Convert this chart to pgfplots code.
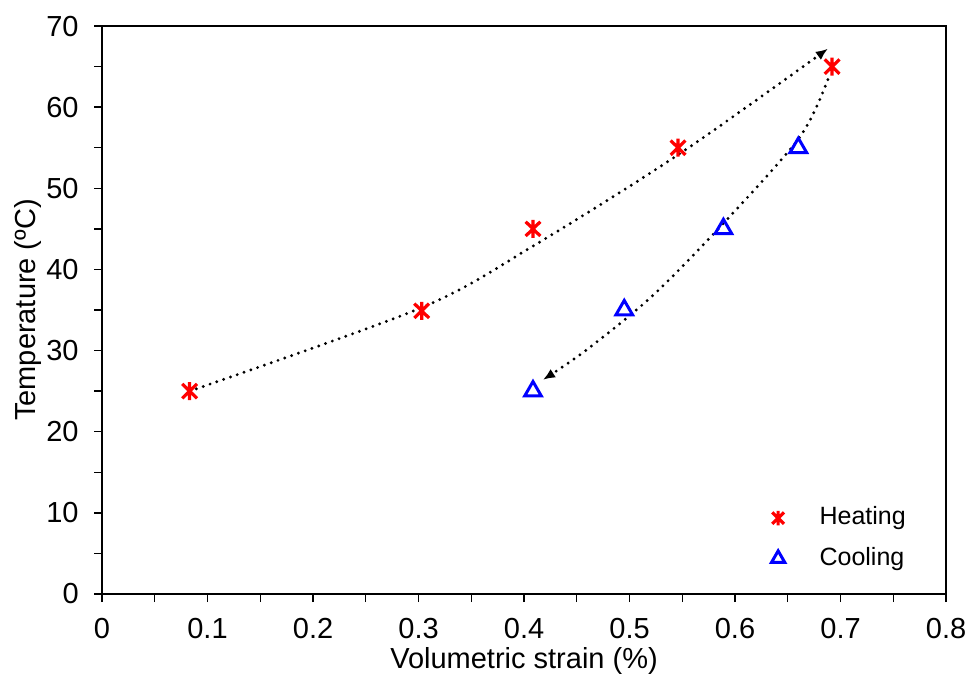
\documentclass[border=0pt]{standalone}
\usepackage{fontspec}
\setmainfont{Liberation Sans}
\usepackage{pgfplots}
\pgfplotsset{compat=1.18}
\usetikzlibrary{arrows.meta}

% six-armed star like the spreadsheet marker
\pgfdeclareplotmark{hstar}{%
  \pgfpathmoveto{\pgfqpoint{0pt}{\pgfplotmarksize}}%
  \pgfpathlineto{\pgfqpoint{0pt}{-\pgfplotmarksize}}%
  \pgfpathmoveto{\pgfqpoint{-0.82\pgfplotmarksize}{0.8\pgfplotmarksize}}%
  \pgfpathlineto{\pgfqpoint{0.82\pgfplotmarksize}{-0.8\pgfplotmarksize}}%
  \pgfpathmoveto{\pgfqpoint{-0.82\pgfplotmarksize}{-0.8\pgfplotmarksize}}%
  \pgfpathlineto{\pgfqpoint{0.82\pgfplotmarksize}{0.8\pgfplotmarksize}}%
  \pgfusepathqstroke}

\begin{document}
\fontsize{14.5}{17}\selectfont
\begin{tikzpicture}
\begin{axis}[
  scale only axis,width=422pt,height=284pt,
  xmin=0,xmax=0.8,ymin=0,ymax=70,
  xtick={0,0.1,...,0.8},ytick={0,10,...,70},
  minor x tick num=1,minor y tick num=1,
  xticklabel style={/pgf/number format/fixed},
  /pgf/number format/assume math mode=true,
  tick align=outside,xtick pos=bottom,ytick pos=left,
  major tick length=4pt,minor tick length=4pt,
  every tick/.style={black,line width=0.7pt},
  axis line style={line width=0.8pt},
  clip=false,
  xlabel={Volumetric strain (\%)},
  ylabel={Temperature (ºC)},
  xticklabel style={inner sep=1pt,yshift=-7pt},
  yticklabel style={inner sep=1pt,xshift=-6.5pt},
  xlabel style={at={(axis description cs:0.5,-0.1188)},anchor=center,inner sep=0pt},
  ylabel style={at={(axis description cs:-0.0883,0.5)},anchor=center,inner sep=0pt},
  legend style={draw=none,fill=none,at={(0.868,0.098)},anchor=center,
    row sep=5pt,font=\fontsize{12.5}{14}\selectfont},
  legend cell align=left,
  legend image code/.code={\path (0cm,0cm) (0.93cm,0cm);
    \draw[#1,mark options={scale=0.8}] plot coordinates {(0.3cm,0cm)};},
]
\addplot[only marks,mark=hstar,mark size=4.5pt,red,line width=1.6pt]
  coordinates {(0.083,25)(0.303,34.9)(0.4085,45)(0.546,55)(0.692,65)};
\addlegendentry{Heating}
\addplot[only marks,mark=triangle,mark size=4.8pt,blue,line width=1.5pt]
  coordinates {(0.4085,25)(0.495,35)(0.589,45)(0.66,55)};
\addlegendentry{Cooling}
\addplot[smooth,black,line width=1.6pt,line cap=round,dash pattern=on 0pt off 3.6pt,
  -{Latex[length=6pt,width=5pt]},forget plot]
  coordinates {(0.083,25)(0.303,35.3)(0.41,43)(0.548,54.3)(0.688,67.2)};
\addplot[smooth,black,line width=1.6pt,line cap=round,dash pattern=on 0pt off 3.6pt,
  -{Latex[length=6pt,width=5pt]},forget plot]
  coordinates {(0.688,63.4)(0.6616,56.35)(0.592,46.1)(0.5226,36.85)(0.4594,30.1)(0.418,26.4)};
% page extent of the reference
\path (rel axis cs:-0.1209,-0.146) (rel axis cs:1.0284,1.0458);
\end{axis}
\end{tikzpicture}
\end{document}
